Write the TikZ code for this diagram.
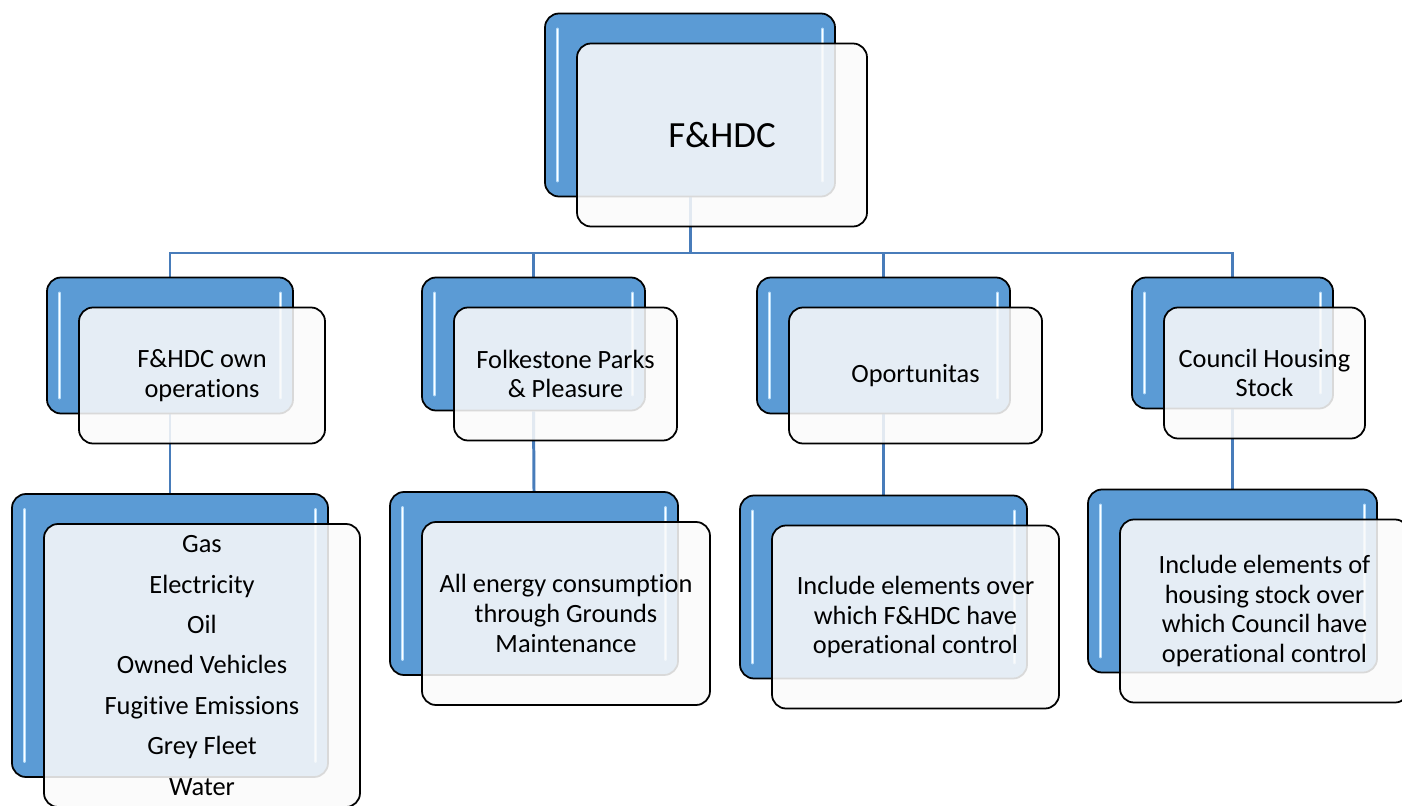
\documentclass[tikz,border=0pt]{standalone}
\usepackage{fontspec}
\setmainfont{Carlito}[Ligatures=NoCommon]
\usetikzlibrary{backgrounds}
\definecolor{boxblue}{RGB}{91,155,213}
\definecolor{linkblue}{RGB}{72,124,186}
\definecolor{glintblue}{RGB}{185,222,250}

\begin{document}
\begin{tikzpicture}[
            glint/.style={glintblue, line width=2.2pt, line cap=round,
                postaction={draw=white, line width=0.8pt}},
            back/.style={draw, line width=1pt, rounded corners=0.28cm, fill=boxblue,
                path picture={
                    \draw[glint] ([xshift=0.25cm,yshift=-0.32cm]path picture bounding box.north west)
                        -- ([xshift=0.25cm,yshift=0.32cm]path picture bounding box.south west);
                    \draw[glint] ([xshift=-0.25cm,yshift=-0.32cm]path picture bounding box.north east)
                        -- ([xshift=-0.25cm,yshift=0.32cm]path picture bounding box.south east);
                }},
            front/.style={draw, line width=1pt, rounded corners=0.28cm, fill=white!98!black,
                fill opacity=0.87, text opacity=1, xshift=0.64cm, yshift=-0.6cm,
                align=center, font=\fontsize{15}{17}\selectfont},
            link/.style={linkblue, line width=1.7pt}
        ]
           \useasboundingbox (0,0) rectangle (28.04,16.1);

           % top
           \node[back, minimum width=5.8cm, minimum height=3.66cm] (rootb) at (13.8,14.0) {};
           \node[front, minimum width=5.8cm, minimum height=3.66cm,
                 font=\fontsize{21}{25}\selectfont] (root) at (rootb) {F\&HDC};

           % second row
           \node[back, minimum width=4.92cm, minimum height=2.72cm] (ownb) at (3.4,9.19) {};
           \node[front, minimum width=4.92cm, minimum height=2.72cm] (own) at (ownb) {F\&HDC own\\operations};

           \node[back, minimum width=4.46cm, minimum height=2.66cm] (parksb) at (10.67,9.22) {};
           \node[front, minimum width=4.46cm, minimum height=2.66cm] (parks) at (parksb) {Folkestone Parks\\\& Pleasure};

           \node[back, minimum width=5.06cm, minimum height=2.72cm] (oportb) at (17.67,9.19) {};
           \node[front, minimum width=5.06cm, minimum height=2.72cm] (oport) at (oportb) {Oportunitas};

           \node[back, minimum width=4.02cm, minimum height=2.62cm] (chsb) at (24.65,9.24) {};
           \node[front, minimum width=4.02cm, minimum height=2.62cm] (chs) at (chsb) {Council Housing\\Stock};

           % third row
           \node[back, minimum width=6.32cm, minimum height=5.66cm] (ownsubb) at (3.4,3.39) {};
           \node[front, minimum width=6.32cm, minimum height=5.66cm,
                 font=\fontsize{15}{23}\selectfont] (ownsub) at (ownsubb)
                 {Gas\\Electricity\\Oil\\Owned Vehicles\\Fugitive Emissions\\Grey Fleet\\Water};

           \node[back, minimum width=5.76cm, minimum height=3.66cm] (parksubb) at (10.68,4.43) {};
           \node[front, minimum width=5.76cm, minimum height=3.66cm] (parksub) at (parksubb)
                 {All energy consumption\\through Grounds\\Maintenance};

           \node[back, minimum width=5.74cm, minimum height=3.66cm] (oportsubb) at (17.67,4.36) {};
           \node[front, minimum width=5.74cm, minimum height=3.66cm] (oportsub) at (oportsubb)
                 {Include elements over\\which F\&HDC have\\operational control};

           \node[back, minimum width=5.78cm, minimum height=3.66cm] (chssubb) at (24.65,4.48) {};
           \node[front, minimum width=5.78cm, minimum height=3.66cm] (chssub) at (chssubb)
                 {Include elements of\\housing stock over\\which Council have\\operational control};

           \coordinate (bus) at (13.8,11.04);

           \begin{scope}[on background layer]
           \draw[link] (rootb.south) -- (rootb.south |- bus);
           \draw[link] (ownb.north) |- (bus) -| (chsb.north);
           \draw[link] (parksb.north) -- (parksb.north |- bus);
           \draw[link] (oportb.north) -- (oportb.north |- bus);

           \draw[link] (ownb.south) -- (ownsubb.north);
           \draw[link] (parksb.south) -- (parksubb.north);
           \draw[link] (oportb.south) -- (oportsubb.north);
           \draw[link] (chsb.south) -- (chssubb.north);
           \end{scope}
        \end{tikzpicture}
\end{document}
